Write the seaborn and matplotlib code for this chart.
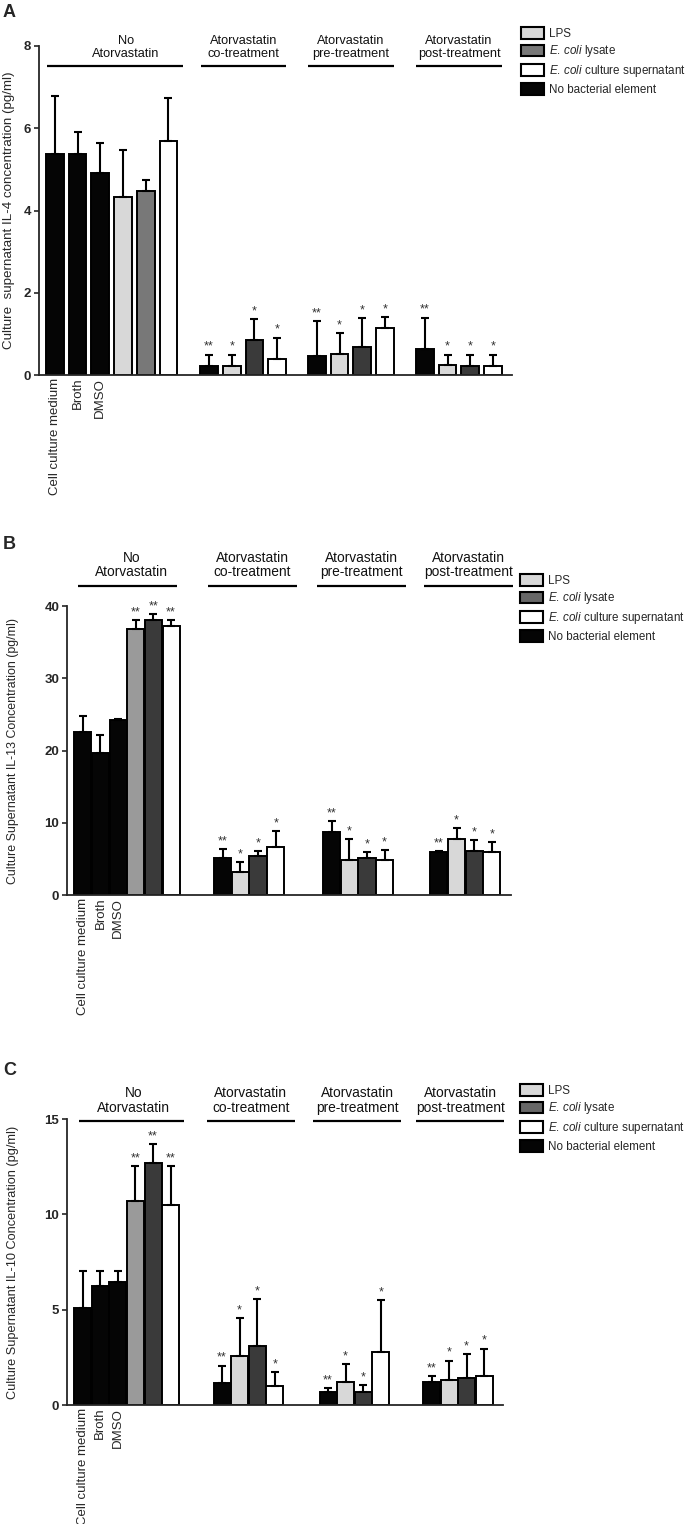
import numpy as np
import pandas as pd
import matplotlib
matplotlib.use('Agg')
import matplotlib.pyplot as plt
import seaborn as sns
from matplotlib.patches import Patch
from matplotlib.transforms import blended_transform_factory

# ─────────────────────────────────────────
# Podaci (ocitani sa slike)
# ─────────────────────────────────────────

group_titles = ['No\nAtorvastatin', 'Atorvastatin\nco-treatment',
                'Atorvastatin\npre-treatment', 'Atorvastatin\npost-treatment']
group_sizes = [6, 4, 4, 4]
control_labels = ['Cell culture medium', 'Broth', 'DMSO']

# boja svakog stupca (kljuc u paleti)
shades_a = ['black', 'black', 'black', 'light', 'mid',
            'white', 'black', 'light', 'dark', 'white',
            'black', 'light', 'dark', 'white', 'black', 'light', 'dark', 'white']
shades_bc = ['black', 'black', 'black', 'gray', 'dark',
             'white', 'black', 'light', 'dark', 'white',
             'black', 'light', 'dark', 'white', 'black', 'light', 'dark', 'white']

il4_mean = [5.37, 5.37, 4.92, 4.33, 4.48, 5.70,
            0.22, 0.22, 0.85, 0.39,
            0.45, 0.51, 0.69, 1.15,
            0.64, 0.24, 0.22, 0.22]
il4_upper = [6.78, 5.92, 5.63, 5.46, 4.74, 6.73,
             0.49, 0.49, 1.36, 0.91,
             1.31, 1.01, 1.38, 1.41,
             1.39, 0.49, 0.49, 0.49]
il4_stars = ['', '', '', '', '', '',
             '**', '*', '*', '*',
             '**', '*', '*', '*',
             '**', '*', '*', '*']

il13_mean = [22.5, 19.6, 24.2, 36.8, 38.0, 37.2,
             5.16, 3.13, 5.44, 6.64,
             8.66, 4.84, 5.12, 4.84,
             5.90, 7.74, 6.08, 5.90]
il13_upper = [24.8, 22.1, 24.35, 38.1, 38.9, 38.1,
              6.31, 4.52, 6.13, 8.89,
              10.28, 7.74, 5.90, 6.18,
              6.13, 9.31, 7.60, 7.33]
il13_stars = ['', '', '', '**', '**', '**',
              '**', '*', '*', '*',
              '**', '*', '*', '*',
              '**', '*', '*', '*']

il10_mean = [5.11, 6.25, 6.44, 10.71, 12.69, 10.50,
             1.14, 2.57, 3.12, 1.00,
             0.70, 1.23, 0.70, 2.78,
             1.23, 1.31, 1.44, 1.52]
il10_upper = [7.05, 7.05, 7.05, 12.55, 13.69, 12.55,
              2.07, 4.55, 5.57, 1.72,
              0.88, 2.15, 1.05, 5.51,
              1.52, 2.33, 2.68, 2.96]
il10_stars = ['', '', '', '**', '**', '**',
              '**', '*', '*', '*',
              '**', '*', '*', '*',
              '**', '*', '*', '*']

palette = {'black': '#050505', 'light': '#d8d8d8', 'mid': '#787878',
           'gray': '#9a9a9a', 'dark': '#3a3a3a', 'white': '#ffffff'}

# ─────────────────────────────────────────
# Stil
# ─────────────────────────────────────────

sns.set_style('ticks')
plt.rcParams['font.family'] = ['Liberation Sans', 'DejaVu Sans']
plt.rcParams['mathtext.fontset'] = 'custom'
plt.rcParams['mathtext.rm'] = 'Liberation Sans'
plt.rcParams['mathtext.it'] = 'Liberation Sans:italic'

W, H = 686, 1524
fig = plt.figure(figsize=(W / 100, H / 100), dpi=100)


def rect(left, right, top, bottom):
    return [left / W, 1 - bottom / H, (right - left) / W, (bottom - top) / H]


panels = [
    dict(letter='A', letter_y=4, rect=rect(39, 512, 46, 375),
         mean=il4_mean, upper=il4_upper, stars=il4_stars, shades=shades_a,
         ymax=8, yticks=[0, 2, 4, 6, 8], starts=[0, 6.79, 11.54, 16.30],
         xlim=(-0.70, 20.14), width=0.78,
         first_pad=(0.36, 0.66), treat_pad=(0.37, 0.39), title_shift=0.49,
         line_y=0.939, title_y=0.958, title_fs=9.2,
         ylabel='Culture  supernatant IL-4 concentration (pg/ml)', ylabel_fs=9.6,
         ylabel_x=-0.050, legend_xy=(521, 27), lyso='mid'),
    dict(letter='B', letter_y=536, rect=rect(67, 511, 606, 895),
         mean=il13_mean, upper=il13_upper, stars=il13_stars, shades=shades_bc,
         ymax=40, yticks=[0, 10, 20, 30, 40], starts=[0, 7.92, 14.08, 20.15],
         xlim=(-0.89, 24.23), width=0.97,
         first_pad=(0.25, 0.32), treat_pad=(0.82, 1.20), title_shift=0.23,
         line_y=1.069, title_y=1.092, title_fs=9.9,
         ylabel='Culture Supernatant IL-13 Concentration (pg/ml)', ylabel_fs=8.9,
         ylabel_x=-0.108, legend_xy=(520, 574), lyso='#676767'),
    dict(letter='C', letter_y=1062, rect=rect(67, 503, 1119, 1405),
         mean=il10_mean, upper=il10_upper, stars=il10_stars, shades=shades_bc,
         ymax=15, yticks=[0, 5, 10, 15], starts=[0, 7.93, 13.97, 19.86],
         xlim=(-0.90, 23.93), width=0.97,
         first_pad=(0.22, 0.76), treat_pad=(0.86, 1.15), title_shift=0.13,
         line_y=0.993, title_y=1.015, title_fs=9.9,
         ylabel='Culture Supernatant IL-10 Concentration (pg/ml)', ylabel_fs=9.2,
         ylabel_x=-0.111, legend_xy=(520, 1084), lyso='#676767'),
]

for p in panels:
    ax = fig.add_axes(p['rect'])

    pos = np.concatenate([s + np.arange(n) for s, n in zip(p['starts'], group_sizes)])
    df = pd.DataFrame({'pos': pos, 'value': p['mean'], 'shade': p['shades']})

    sns.barplot(data=df, x='pos', y='value', hue='shade', palette=palette,
                native_scale=True, dodge=False, width=p['width'], errorbar=None,
                edgecolor='black', linewidth=1.4, legend=False, ax=ax)

    mean = np.array(p['mean'])
    upper = np.array(p['upper'])
    ax.errorbar(pos, mean, yerr=[np.zeros_like(mean), upper - mean], fmt='none',
                ecolor='black', elinewidth=1.5, capsize=2.8, capthick=1.5, zorder=5)

    for x, u, s in zip(pos, upper, p['stars']):
        if s:
            ax.text(x, u + p['ymax'] * 0.006, s, ha='center', va='bottom',
                    fontsize=9, color='#333333')

    # naslovi grupa i linije
    trans = blended_transform_factory(ax.transData, ax.transAxes)
    for i, (s, n) in enumerate(zip(p['starts'], group_sizes)):
        lp, rp = p['first_pad'] if i == 0 else p['treat_pad']
        x0, x1 = s - lp, s + n - 1 + rp
        ax.plot([x0, x1], [p['line_y']] * 2, color='black', lw=1.6,
                transform=trans, clip_on=False, solid_capstyle='butt')
        xc = (x0 + x1) / 2 + (p['title_shift'] if i == 0 else 0)
        ax.text(xc, p['title_y'], group_titles[i], transform=trans, ha='center',
                va='bottom', fontsize=p['title_fs'], linespacing=1.05, color='#111111')

    ax.set_xlim(*p['xlim'])
    ax.set_ylim(0, p['ymax'])
    ax.set_yticks(p['yticks'])
    ax.set_xticks(pos[:3])
    ax.set_xticklabels(control_labels, rotation=90, fontsize=9.5)
    ax.tick_params(axis='x', length=0, pad=2)
    ax.tick_params(axis='y', length=3.5, width=1.2, pad=2, labelsize=9.5)
    for lab in ax.get_yticklabels():
        lab.set_fontweight('bold')
    ax.set_xlabel('')
    ax.set_ylabel(p['ylabel'], fontsize=p['ylabel_fs'])
    ax.yaxis.set_label_coords(p['ylabel_x'], 0.5)
    sns.despine(ax=ax)
    for sp in ['left', 'bottom']:
        ax.spines[sp].set_linewidth(1.3)

    fig.text(3 / W, 1 - p['letter_y'] / H, p['letter'], fontsize=13,
             fontweight='bold', va='top', ha='left')

    handles = [
        Patch(facecolor=palette['light'], edgecolor='black', linewidth=1.5, label='LPS'),
        Patch(facecolor=palette.get(p['lyso'], p['lyso']), edgecolor='black',
              linewidth=1.5, label=r'$\mathit{E.\,coli}$ lysate'),
        Patch(facecolor='white', edgecolor='black', linewidth=1.5,
              label=r'$\mathit{E.\,coli}$ culture supernatant'),
        Patch(facecolor=palette['black'], edgecolor='black', linewidth=1.5,
              label='No bacterial element'),
    ]
    lx, ly = p['legend_xy']
    fig.legend(handles=handles, loc='upper left',
               bbox_to_anchor=(lx / W, 1 - ly / H), frameon=False,
               fontsize=8.4, handlelength=2.0, handleheight=1.15,
               handletextpad=0.4, labelspacing=0.32, borderpad=0,
               borderaxespad=0)

fig.savefig('out.png', dpi=100)
